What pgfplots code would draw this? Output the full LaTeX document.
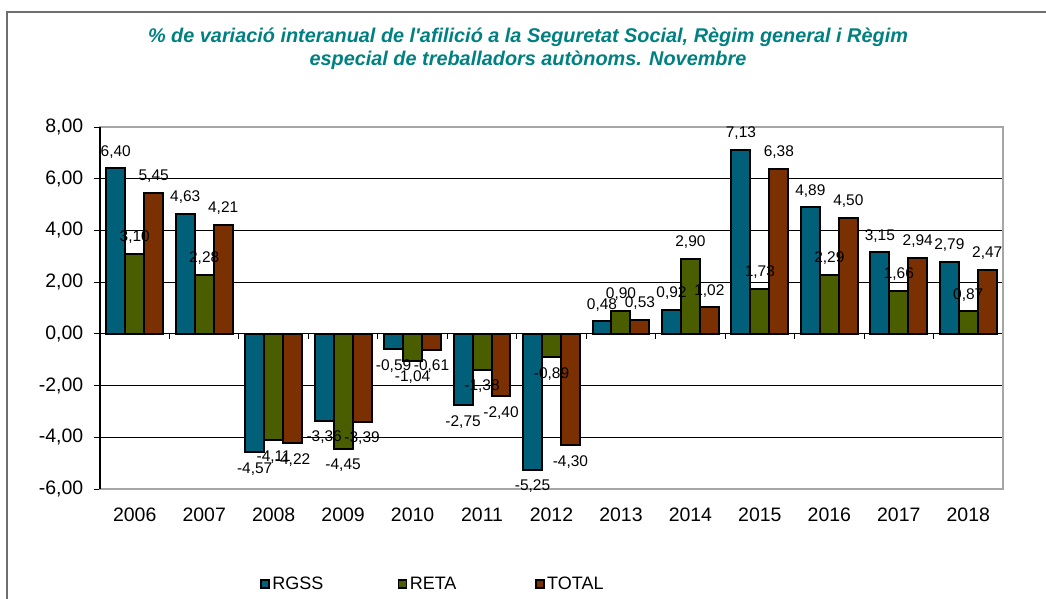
\documentclass[border=0pt]{standalone}
\usepackage{pgfplots}
\pgfplotsset{compat=1.18}
\usepackage{fontspec}
\setmainfont{Liberation Sans}
\definecolor{cblue}{RGB}{0,96,122}
\definecolor{cgreen}{RGB}{74,94,0}
\definecolor{cbrown}{RGB}{122,48,0}
\definecolor{cteal}{RGB}{0,128,128}
\definecolor{cframe}{RGB}{110,110,110}
\pgfplotstableread{
x RGSS RETA TOTAL
0 6.40 3.10 5.45
1 4.63 2.28 4.21
2 -4.57 -4.11 -4.22
3 -3.36 -4.45 -3.39
4 -0.59 -1.04 -0.61
5 -2.75 -1.38 -2.40
6 -5.25 -0.89 -4.30
7 0.48 0.90 0.53
8 0.92 2.90 1.02
9 7.13 1.73 6.38
10 4.89 2.29 4.50
11 3.15 1.66 2.94
12 2.79 0.87 2.47
}\datatable
\begin{document}
\begin{tikzpicture}[x=0.75pt,y=-0.75pt]
\path[use as bounding box] (0,0) rectangle (1046,599);
\draw[cframe, line width=1.5pt] (7,600) -- (7,12) -- (1047,12);
\node[font=\bfseries\itshape\fontsize{14.9}{17.5}\selectfont, text=cteal, align=center] at (528,49)
 {\% de variació interanual de l\textquotesingle afilició a la Seguretat Social, Règim general i Règim\\especial de treballadors autònoms. Novembre};
\begin{axis}[
  at={(75pt,-366.75pt)}, anchor=south west,
  width=677.25pt, height=271.5pt, scale only axis,
  clip=false,
  ybar=0pt, bar width=0.273,
  xmin=-0.5, xmax=12.5, ymin=-6, ymax=8,
  ytick={-6,-4,...,8},
  xtick={0,...,12},
  xticklabels={2006,2007,2008,2009,2010,2011,2012,2013,2014,2015,2016,2017,2018},
  xtick style={draw=none},
  ytick pos=left,
  ytick style={black, line width=0.75pt},
  tick align=outside,
  major tick length=4.5pt,
  axis line style={draw=gray!70, line width=1pt},
  ymajorgrids,
  major grid style={black, line width=0.75pt},
  yticklabel={\pgfmathprintnumber[fixed,fixed zerofill,precision=2,use comma]{\tick}},
  /pgf/number format/assume math mode=true,
  yticklabel style={font=\fontsize{14.6}{17}\selectfont, xshift=-4.5pt},
  xticklabel style={font=\fontsize{14.6}{17}\selectfont, yshift=-6.5pt},
  nodes near coords={\pgfmathprintnumber[fixed,fixed zerofill,precision=2,use comma,assume math mode=true]{\pgfplotspointmeta}},
  nodes near coords align={vertical},
  every node near coord/.append style={font=\fontsize{11.6}{13}\selectfont, black, inner xsep=1pt, inner ysep=7pt},
  legend style={at={(0.369,-0.262)}, anchor=center, draw=none, fill=none, legend columns=3,
    font=\fontsize{13.5}{15}\selectfont},
  legend image code/.code={\draw[#1, line width=1.1pt] (0pt,-3pt) rectangle (6pt,3pt);},
]
\addplot[fill=cblue, draw=black, line width=1.5pt] table[x=x,y=RGSS]{\datatable};
\addplot[fill=cgreen, draw=black, line width=1.5pt] table[x=x,y=RETA]{\datatable};
\addplot[fill=cbrown, draw=black, line width=1.5pt] table[x=x,y=TOTAL]{\datatable};
\addlegendentry{\makebox[92pt][l]{RGSS}}
\addlegendentry{\makebox[92pt][l]{RETA}}
\addlegendentry{TOTAL}
\draw[black, line width=1pt] (axis cs:-0.5,-6) -- (axis cs:-0.5,8);
\pgfplotsinvokeforeach{0.5,1.5,2.5,3.5,4.5,5.5,6.5,7.5,8.5,9.5,10.5,11.5}{
  \draw[black, line width=0.75pt] (axis cs:#1,0) -- ++(0pt,-4pt);
}
\end{axis}
\end{tikzpicture}
\end{document}
